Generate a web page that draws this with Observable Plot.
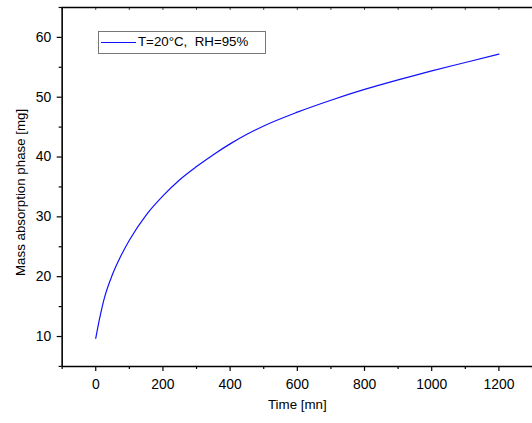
<!DOCTYPE html>
<html><head><meta charset="utf-8">
<script src="https://cdn.jsdelivr.net/npm/d3@7"></script>
<script src="https://cdn.jsdelivr.net/npm/@observablehq/plot@0.6"></script>
<style>
html,body{margin:0;padding:0;background:#fff;overflow:hidden;}
#wrap{position:relative;width:532px;height:423px;overflow:hidden;}
#legend{position:absolute;left:98px;top:31px;width:168px;height:23px;border:1px solid #777;box-sizing:border-box;background:#fff;font-family:"Liberation Sans",Arial,sans-serif;font-size:13.3px;color:#000;white-space:pre;}
#legend svg{position:absolute;left:2px;top:9px;}
#legend span{position:absolute;left:39px;top:2px;}
</style></head><body>
<div id="wrap"><div id="legend"></div></div>
<script>
// data
const times = [0, 10, 25, 50, 75, 100, 150, 200, 250, 300, 350, 400, 450, 500, 600, 700, 800, 900, 1000, 1100, 1200];
const mass = [9.7, 12.6, 16.3, 20.4, 23.5, 26.1, 30.3, 33.5, 36.2, 38.4, 40.4, 42.2, 43.8, 45.2, 47.5, 49.5, 51.3, 52.9, 54.4, 55.8, 57.2];
const seriesName = "T=20°C,  RH=95%";
const xTicks = [0, 200, 400, 600, 800, 1000, 1200];
const xMinorTicks = [-100, 100, 300, 500, 700, 900, 1100, 1300];
const topTicks = [-100, 0, 100, 200, 300, 400, 500, 600, 700, 800, 900, 1000, 1100, 1200, 1300];
const yTicks = [10, 20, 30, 40, 50, 60];
const yMinorTicks = [5, 15, 25, 35, 45, 55, 65];
const xTitle = "Time [mn]";
const yTitle = "Mass absorption phase [mg]";

const data = times.map((t, i) => ({t, m: mass[i]}));

const chart = Plot.plot({
  width: 535, height: 423,
  marginLeft: 62, marginRight: 0, marginTop: 7, marginBottom: 55,
  x: {domain: [-100, 1300], axis: null},
  y: {domain: [5, 65], axis: null},
  style: {fontFamily: "'Liberation Sans', Arial, sans-serif", background: "white", color: "black", overflow: "visible"},
  marks: [
    Plot.axisX({ticks: xTicks, tickSize: 5, tickPadding: 8, fontSize: 14, label: null, tickFormat: d => String(d), strokeWidth: 1.2}),
    Plot.axisX({ticks: xMinorTicks, tickSize: 3, label: null, tickFormat: () => "", strokeWidth: 1.2}),
    Plot.axisY({ticks: yTicks, tickSize: 5, tickPadding: 6, fontSize: 14, label: null, tickFormat: d => String(d), strokeWidth: 1.2}),
    Plot.axisY({ticks: yMinorTicks, tickSize: 3, label: null, tickFormat: () => "", strokeWidth: 1.2}),
    Plot.ruleX(topTicks, {y1: 65, y2: 64.5, stroke: "#444", strokeWidth: 1}),
    Plot.ruleY([5], {strokeWidth: 1.6}),
    Plot.ruleY([65], {strokeWidth: 1.6}),
    Plot.ruleX([-100], {strokeWidth: 1.6}),
    Plot.line(data, {x: "t", y: "m", stroke: "#1010ff", strokeWidth: 1.2, curve: "monotone-x"}),
    Plot.text([xTitle], {frameAnchor: "bottom", dy: 43, fontSize: 13.4}),
    Plot.text([yTitle], {frameAnchor: "left", textAnchor: "middle", dx: -42, dy: 5.5, rotate: -90, fontSize: 13.4})
  ]
});
const wrap = document.getElementById("wrap");
wrap.insertBefore(chart, wrap.firstChild);

const legend = document.getElementById("legend");
legend.innerHTML = `<svg width="36" height="3"><line x1="0" x2="35" y1="1.5" y2="1.5" stroke="#1010ff" stroke-width="1"/></svg><span></span>`;
legend.querySelector("span").textContent = seriesName;
</script>
</body></html>
